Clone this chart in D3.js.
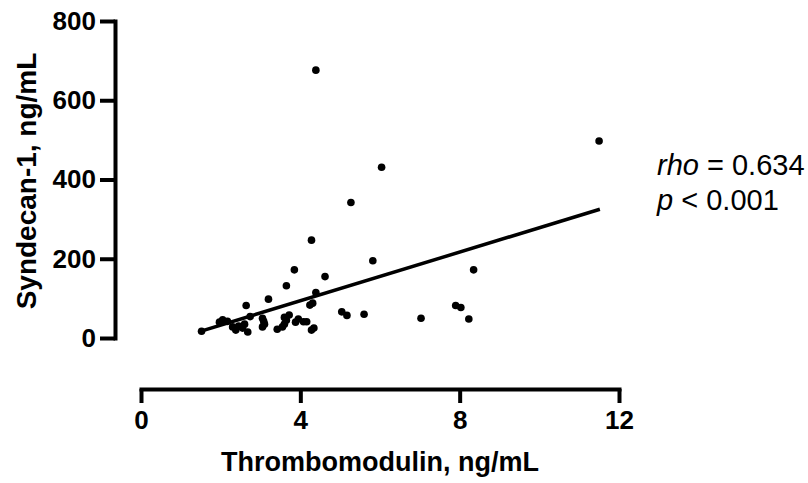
<!DOCTYPE html>
<html>
<head>
<meta charset="utf-8">
<script src="https://cdn.jsdelivr.net/npm/d3@7"></script>
<style>
  body { margin: 0; background: #fff; }
  svg { display: block; font-family: "Liberation Sans", Arial, Helvetica, sans-serif; }
</style>
</head>
<body>
<svg width="808" height="483"></svg>
<script>
// Thrombomodulin vs Syndecan-1 scatter
var thrombomodulin = [1.52, 1.97, 2.05, 2.17, 2.3, 2.38, 2.45, 2.55, 2.6, 2.64,
    2.68, 2.74, 3.2, 3.05, 3.08, 3.1, 3.05, 3.42, 3.55, 3.6,
    3.6, 3.65, 3.72, 3.65, 3.85, 3.88, 3.95, 4.08, 4.16, 4.24,
    4.31, 4.28, 4.34, 4.39, 4.28, 4.62, 4.39, 5.04, 5.17, 5.27,
    5.6, 5.82, 6.04, 7.03, 7.9, 8.03, 8.23, 8.35, 11.5];
var syndecan = [17, 40, 46, 42, 28, 20, 30, 25, 35, 82,
    15, 54, 98, 50, 42, 35, 28, 22, 28, 35,
    52, 45, 58, 132, 172, 40, 48, 41, 41, 83,
    88, 20, 25, 115, 247, 155, 676, 66, 57, 342,
    60, 195, 431, 50, 82, 77, 48, 172, 497];

// fitted line end points
var fitX = [1.53, 11.52];
var fitY = [18, 325];

var xTicks = [0, 4, 8, 12];
var yTicks = [0, 200, 400, 600, 800];

var svg = d3.select("svg");

var x = d3.scaleLinear().domain([0, 12]).range([141, 619]);
var y = d3.scaleLinear().domain([0, 800]).range([338, 21]);

//x axis, pushed down below the plot
var xAxis = svg.append("g")
    .attr("transform", "translate(0,389)")
    .call(d3.axisBottom(x).tickValues(xTicks).tickSize(14).tickSizeOuter(0).tickPadding(8));

//y axis
var yAxis = svg.append("g")
    .attr("transform", "translate(115,0)")
    .call(d3.axisLeft(y).tickValues(yTicks).tickSize(15).tickSizeOuter(0).tickPadding(4));

[xAxis, yAxis].forEach(function (g) {
    g.select(".domain").attr("stroke", "#000").attr("stroke-width", 4).attr("stroke-linecap", "square");
    g.selectAll(".tick line").attr("stroke", "#000").attr("stroke-width", 4);
    g.selectAll(".tick text")
        .attr("fill", "#000")
        .style("font-family", "'Liberation Sans', Arial, sans-serif")
        .style("font-size", "26px")
        .style("font-weight", "bold");
});

//axis titles
svg.append("text")
    .attr("x", 380)
    .attr("y", 471)
    .attr("text-anchor", "middle")
    .style("font-size", "27px")
    .style("font-weight", "bold")
    .text("Thrombomodulin, ng/mL");

svg.append("text")
    .attr("transform", "translate(36,181) rotate(-90)")
    .attr("text-anchor", "middle")
    .style("font-size", "28px")
    .style("font-weight", "bold")
    .text("Syndecan-1, ng/mL");

//regression line
var line = d3.line()
    .x(function (d) { return x(d[0]); })
    .y(function (d) { return y(d[1]); });

svg.append("path")
    .datum(d3.zip(fitX, fitY))
    .attr("d", line)
    .attr("fill", "none")
    .attr("stroke", "#000")
    .attr("stroke-width", 3.5);

//points
svg.append("g")
    .selectAll("circle")
    .data(d3.zip(thrombomodulin, syndecan))
    .enter().append("circle")
    .attr("cx", function (d) { return x(d[0]); })
    .attr("cy", function (d) { return y(d[1]); })
    .attr("r", 3.8)
    .attr("fill", "#000");

//stats annotation
var stats = svg.append("g").style("font-size", "29px");
var t1 = stats.append("text").attr("x", 657).attr("y", 175);
t1.append("tspan").style("font-style", "italic").text("rho");
t1.append("tspan").text(" = 0.634");
var t2 = stats.append("text").attr("x", 657).attr("y", 210);
t2.append("tspan").style("font-style", "italic").text("p");
t2.append("tspan").text(" < 0.001");
</script>
</body>
</html>
